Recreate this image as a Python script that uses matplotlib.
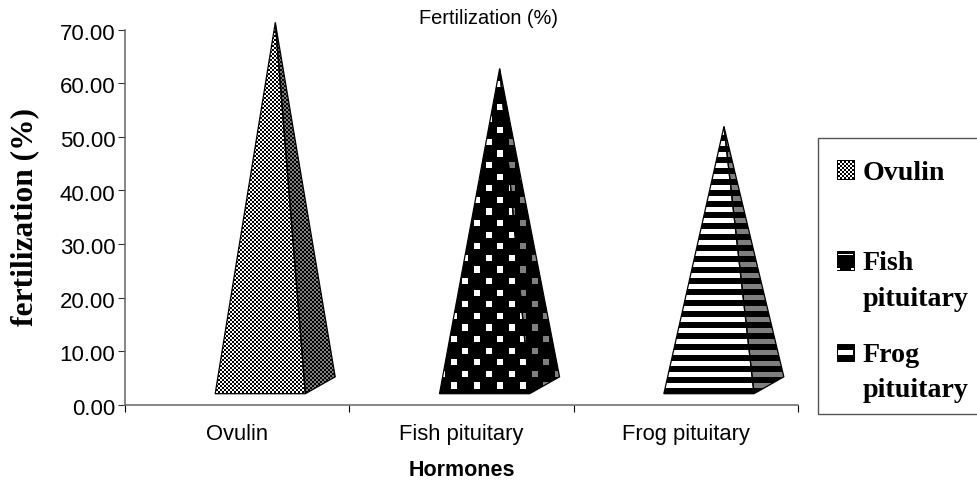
import numpy as np
import matplotlib
matplotlib.use("Agg")
import matplotlib.pyplot as plt
from matplotlib.patches import Polygon, Rectangle
from matplotlib.transforms import IdentityTransform, ScaledTranslation

categories = ["Ovulin", "Fish pituitary", "Frog pituitary"]
values = [71.3, 62.7, 51.9]
y_ticks = [0, 10, 20, 30, 40, 50, 60, 70]

W, H = 977, 485
SANS = "Liberation Sans"
SERIF = "Liberation Serif"

fig = plt.figure(figsize=(W / 100, H / 100), dpi=100)
ax = fig.add_axes([125 / W, 1 - 405.7 / H, (798 - 125) / W, (405.7 - 30.5) / H])

yy, xx = np.mgrid[0:H, 0:W]


def rgb(mask, on, off):
    img = np.empty((H, W, 3))
    img[:] = off
    img[mask] = on
    return img


BLACK, WHITE, GREY = (0, 0, 0), (1, 1, 1), (0.5, 0.5, 0.5)

checker = ((xx // 2) + (yy // 2)) % 2 == 0

k = np.round((386 - yy) / 11.6)
row_y = 386 - k * 11.6
shift = (xx - 453.3 - 11.6 * (k % 2)) % 23.1
dots = (np.abs(yy - row_y) <= 3) & (np.minimum(shift, 23.1 - shift) <= 3)

stripes = ((yy - 383.5) % 11) < 5.5

patterns = [
    (rgb(checker, WHITE, BLACK), rgb(checker, GREY, BLACK)),
    (rgb(dots, WHITE, BLACK), rgb(dots, GREY, BLACK)),
    (rgb(stripes, WHITE, BLACK), rgb(stripes, GREY, BLACK)),
]

# pyramid shape relative to the category centre, in axis units
FRONT_L, FRONT_R, BACK_R, APEX = -0.098, 0.304, 0.437, 0.170
BASE_Y, BACK_Y = 2.05, 5.2


def textured(poly_xy, img):
    edge = Polygon(poly_xy, closed=True, fc="none", ec="black", lw=0.9,
                   transform=ax.transData, zorder=3, clip_on=False)
    ax.add_patch(edge)
    im = ax.imshow(img, extent=(0, W, 0, H), origin="upper", aspect="auto",
                   interpolation="nearest", transform=IdentityTransform(), zorder=2)
    im.set_clip_box(None)
    im.set_clip_path(edge)


for i, v in enumerate(values):
    front = [(i + FRONT_L, BASE_Y), (i + FRONT_R, BASE_Y), (i + APEX, v)]
    side = [(i + FRONT_R, BASE_Y), (i + BACK_R, BACK_Y), (i + APEX, v)]
    textured(front, patterns[i][0])
    textured(side, patterns[i][1])

ax.set_xlim(-0.5, 2.5)
ax.set_ylim(0, 70)
ax.set_xticks([-0.5, 0.5, 1.5, 2.5])
ax.set_xticklabels([])
ax.set_xticks([0, 1, 2], minor=True)
ax.set_xticklabels(categories, minor=True, fontfamily=SANS, fontsize=15.8)
ax.tick_params(axis="x", which="minor", length=0, pad=13.5)
ax.tick_params(axis="x", which="major", length=5, width=0.8, color="black")
ax.set_yticks(y_ticks)
ax.set_yticklabels([f"{t:.2f}" for t in y_ticks], fontfamily=SANS, fontsize=16)
ax.tick_params(axis="y", length=5, width=0.8, color="#333333", pad=2)
nudge = ScaledTranslation(0, -1 / 72, fig.dpi_scale_trans)
for lab in ax.get_yticklabels():
    lab.set_transform(lab.get_transform() + nudge)
for s in ("top", "right"):
    ax.spines[s].set_visible(False)
for s in ("left", "bottom"):
    ax.spines[s].set_color("#666666")
    ax.spines[s].set_linewidth(1.1)

fig.text(488.5 / W, 1 - 18.5 / H, "Fertilization (%)", family=SANS, fontsize=14.4,
         ha="center", va="center")
fig.text(461.5 / W, 1 - 471 / H, "Hormones", family=SANS, fontweight="bold",
         fontsize=15.5, ha="center", va="center")
fig.text(25 / W, 1 - 217 / H, "fertilization (%)", family=SERIF, fontweight="bold",
         fontsize=22.6, rotation=90, ha="center", va="center")

# legend
tr = IdentityTransform()


def box(x0, y0, x1, y1, **kw):
    r = Rectangle((x0, H - y1), x1 - x0, y1 - y0, transform=tr, **kw)
    fig.add_artist(r)
    return r


box(818, 138.5, 1000, 415, fc="white", ec="#555555", lw=1.0)

legend_lines = [["Ovulin"], ["Fish", "pituitary"], ["Frog", "pituitary"]]
legend_base = [[180], [270, 306], [362, 397]]
for lines, bases in zip(legend_lines, legend_base):
    for t, b in zip(lines, bases):
        fig.text(863 / W, 1 - b / H, t, family=SERIF, fontweight="bold",
                 fontsize=20.2, ha="left", va="baseline")

sw = box(837, 161, 854, 180, fc="none", ec="black", lw=0.7, zorder=6)
leg_img = fig.figimage(rgb(checker, WHITE, BLACK), zorder=5, origin="upper")
leg_img.set_clip_path(sw)

box(837, 252, 854, 271, fc="black", ec="black", lw=0.7, zorder=5)
box(838, 255, 853, 256, fc="white", ec="none", zorder=6)
box(837, 269, 840, 271, fc="white", ec="none", zorder=6)
box(851, 269, 854, 271, fc="white", ec="none", zorder=6)

box(837, 345, 854, 362, fc="black", ec="black", lw=0.7, zorder=5)
box(838, 351, 853, 356, fc="white", ec="none", zorder=6)

fig.savefig("out.png", dpi=100)
